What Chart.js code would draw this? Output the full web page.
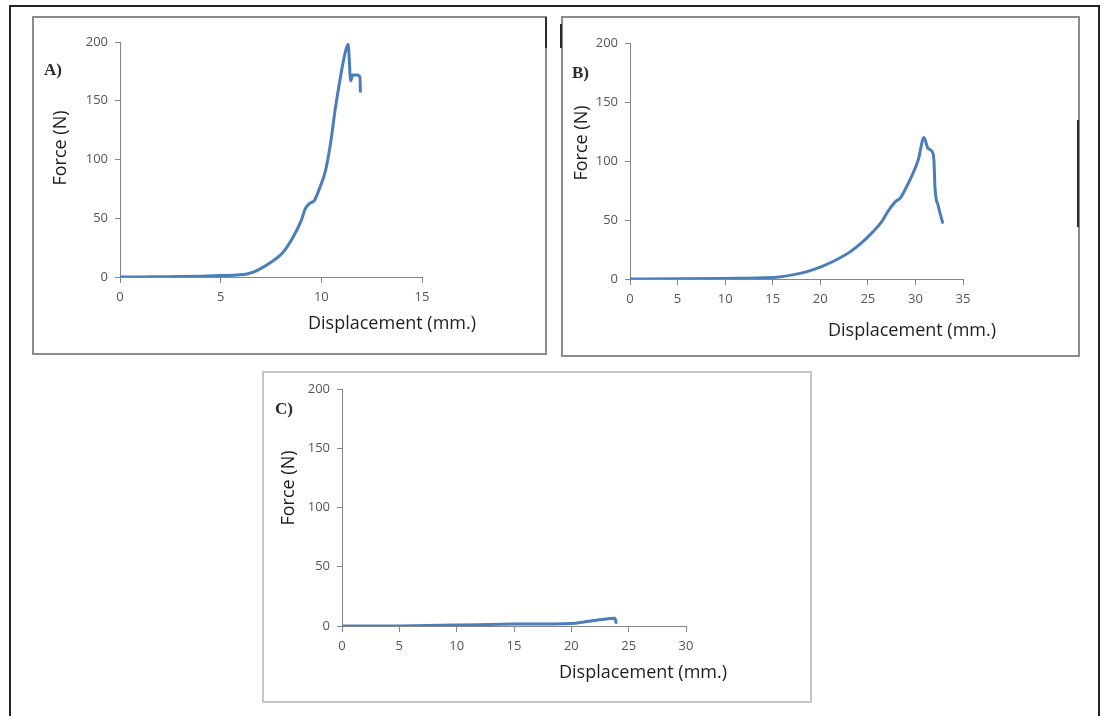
<!DOCTYPE html>
<html>
<head>
<meta charset="utf-8">
<title>Force vs displacement</title>
<script src="https://cdn.jsdelivr.net/npm/chart.js@4.4.1/dist/chart.umd.min.js"></script>
<style>
  html, body { margin: 0; padding: 0; background: #fff; }
  body { width: 1107px; height: 716px; position: relative; overflow: hidden; font-family: "Open Sans", sans-serif; }
  .frame { position: absolute; left: 9px; top: 5px; width: 1087px; height: 760px; border: 2px solid #222; border-bottom: none; }
  .panel { position: absolute; box-sizing: border-box; border: 2px solid #8c8c8c; }
  .panel.light { border-color: #c6c6c6; }
  canvas { position: absolute; }
  .tag { position: absolute; font: bold 17px "Liberation Serif", serif; color: #2b2b2b; line-height: 1; }
  .xtitle { position: absolute; font-size: 18px; line-height: 1; color: #1e1e1e; white-space: nowrap; }
  .ytitle { position: absolute; font-size: 18px; line-height: 1; color: #1e1e1e; white-space: nowrap; transform: translate(-50%, -50%) rotate(-90deg); }
  .mark { position: absolute; background: #2a2a2a; width: 2px; }
</style>
</head>
<body>
<div class="frame"></div>

<div class="panel" style="left:32px; top:16px; width:515px; height:339px;"></div>
<div class="panel" style="left:561px; top:16px; width:519px; height:341px;"></div>
<div class="panel light" style="left:262px; top:371px; width:550px; height:332px;"></div>

<div class="mark" style="left:545px; top:17px; height:31px;"></div>
<div class="mark" style="left:560px; top:24px; height:24px;"></div>
<div class="mark" style="left:1077px; top:120px; height:107px;"></div>

<canvas id="chartA" width="515" height="339" style="left:32px; top:16px;"></canvas>
<canvas id="chartB" width="519" height="341" style="left:561px; top:16px;"></canvas>
<canvas id="chartC" width="550" height="332" style="left:262px; top:371px;"></canvas>

<div class="tag" style="left:44px; top:61px;">A)</div>
<div class="tag" style="left:572px; top:64px;">B)</div>
<div class="tag" style="left:275px; top:400px;">C)</div>

<div class="xtitle" style="left:308px; top:313px;">Displacement (mm.)</div>
<div class="xtitle" style="left:828px; top:320px;">Displacement (mm.)</div>
<div class="xtitle" style="left:559px; top:662px;">Displacement (mm.)</div>

<div class="ytitle" style="left:59px; top:148px;">Force (N)</div>
<div class="ytitle" style="left:580px; top:143px;">Force (N)</div>
<div class="ytitle" style="left:287px; top:488px;">Force (N)</div>

<script>
// sample A
const dispA = [0, 1, 2, 3, 4, 5, 5.8, 6.3, 6.8, 7.5, 8.1, 8.6, 9.0, 9.2, 9.45, 9.65, 9.9, 10.2, 10.45, 10.7, 11.0, 11.2, 11.33, 11.46, 11.55, 11.77, 11.92, 11.94];
const forceA = [0, 0, 0.2, 0.4, 0.7, 1.2, 1.8, 2.5, 5.5, 12.5, 21, 34, 48, 58, 63, 65, 75, 90, 113, 144, 175, 192, 198, 167, 172, 172, 170, 158];

// sample B
const dispB = [0, 5, 10, 15, 17.2, 18.7, 20.2, 21.7, 23.2, 24.3, 25.4, 26.4, 27.1, 27.9, 28.4, 28.8, 29.6, 30.3, 30.9, 31.3, 31.75, 31.95, 32.05, 32.4, 32.85];
const forceB = [0, 0.2, 0.5, 1.2, 3.7, 6.5, 10.7, 16.3, 23.4, 30.4, 38.9, 47.9, 57.2, 65.6, 68.5, 74, 87, 101, 120, 111, 108, 100, 78, 62, 48];

// sample C
const dispC = [0, 5, 10, 15, 20, 21.1, 22.3, 23.8, 23.9];
const forceC = [0, 0.1, 0.8, 1.6, 2.2, 3.4, 5, 6.5, 3];

const forceTicks = [0, 50, 100, 150, 200];

const AXIS_GREY = '#868686';
const LABEL_GREY = '#555555';
const LINE_BLUE = '#4a7ebb';

function toPoints(xs, ys) {
    return xs.map((x, i) => ({ x: x, y: ys[i] }));
}

// box = fixed sizes so the plot area lands where the panel needs it
function makeChart(id, xs, ys, xMax, box) {
    const ctx = document.getElementById(id).getContext('2d');
    return new Chart(ctx, {
        type: 'scatter',
        data: {
            datasets: [{
                data: toPoints(xs, ys),
                showLine: true,
                borderColor: LINE_BLUE,
                borderWidth: 3,
                pointRadius: 0,
                cubicInterpolationMode: 'monotone',
                borderCapStyle: 'round',
                borderJoinStyle: 'round'
            }]
        },
        options: {
            responsive: false,
            animation: false,
            devicePixelRatio: 1,
            layout: { padding: { left: 0, top: box.top, right: box.right, bottom: 0 } },
            plugins: { legend: { display: false }, tooltip: { enabled: false } },
            scales: {
                x: {
                    type: 'linear',
                    min: 0,
                    max: xMax,
                    afterFit: (scale) => { scale.height = box.xH; },
                    ticks: {
                        stepSize: 5,
                        color: LABEL_GREY,
                        padding: 6,
                        maxRotation: 0,
                        font: { family: 'Open Sans', size: 13 }
                    },
                    grid: { drawOnChartArea: false, drawTicks: true, tickLength: 6, color: AXIS_GREY },
                    border: { color: AXIS_GREY, width: 1 }
                },
                y: {
                    min: 0,
                    max: 200,
                    afterFit: (scale) => { scale.width = box.yW; },
                    afterBuildTicks: (scale) => { scale.ticks = forceTicks.map(v => ({ value: v })); },
                    ticks: {
                        color: LABEL_GREY,
                        padding: 7,
                        font: { family: 'Open Sans', size: 13 }
                    },
                    grid: { drawOnChartArea: false, drawTicks: true, tickLength: 5, color: AXIS_GREY },
                    border: { color: AXIS_GREY, width: 1 }
                }
            }
        }
    });
}

makeChart('chartA', dispA, forceA, 15, { top: 26, right: 125, yW: 88, xH: 78 });
makeChart('chartB', dispB, forceB, 35, { top: 27, right: 117, yW: 69, xH: 78 });
makeChart('chartC', dispC, forceC, 30, { top: 18, right: 126, yW: 80, xH: 77 });
</script>
</body>
</html>
